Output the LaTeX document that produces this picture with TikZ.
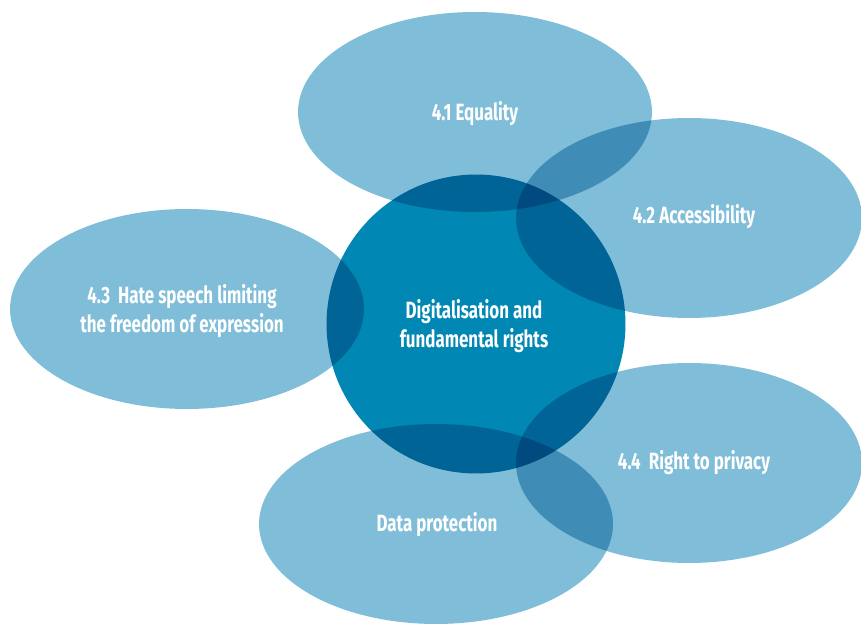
\documentclass[tikz,border=0pt]{standalone}
\usepackage{fontspec}
\setmainfont{Fira Sans}[FakeStretch=0.72]
\usetikzlibrary{shapes.geometric}
\definecolor{bubblefill}{HTML}{7FBDD8}
\definecolor{corefill}{HTML}{0087B3}

\begin{document}
\begin{tikzpicture}[x=0.02cm, y=-0.02cm]
\tikzstyle{bubble}=[ellipse, fill=bubblefill, inner sep=0pt, minimum width=7.08cm, minimum height=4cm]
\tikzstyle{narrow}=[bubble, minimum width=6.92cm]
\tikzstyle{core}=[circle, fill=corefill, inner sep=0pt, minimum size=5.98cm]
\tikzstyle{caption}=[text=white, font=\bfseries\fontsize{13.4}{16.4}\selectfont, align=center, inner sep=0pt]

  \useasboundingbox (0,0) rectangle (861,624);

  % overlapping discs, darker where they meet
  \begin{scope}[blend mode=multiply]
    \node[bubble] (equality)   at (475,112) {};
    \node[narrow] (access)     at (689,218) {};
    \node[bubble] (hate)       at (187,309) {};
    \node[narrow] (privacy)    at (689,463) {};
    \node[bubble] (data)       at (436,524) {};
    \node[core]   (digital)    at (476,324) {};
  \end{scope}

  \node[caption] (equalitytxt) at ([shift={(0,2)}]equality) {4.1 Equality};
  \node[caption] (accesstxt)   at ([shift={(5,-1)}]access)  {4.2 Accessibility};
  \node[caption] (hatetxt)     at ([shift={(-5,2)}]hate)    {4.3\ \ Hate speech limiting\\the freedom of expression};
  \node[caption] (privacytxt)  at ([shift={(5,0)}]privacy)  {4.4\ \ Right to privacy};
  \node[caption] (datatxt)     at ([shift={(1,1)}]data)     {Data protection};
  \node[caption] (digitaltxt)  at ([shift={(-2,2)}]digital) {Digitalisation and\\fundamental rights};

\end{tikzpicture}
\end{document}
